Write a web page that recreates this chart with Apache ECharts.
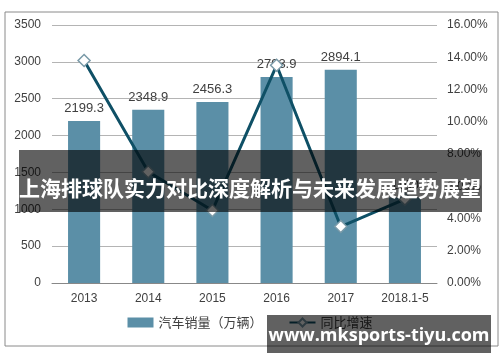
<!DOCTYPE html>
<html><head><meta charset="utf-8">
<script src="https://cdn.jsdelivr.net/npm/echarts@6/dist/echarts.min.js"></script>
<style>html,body{margin:0;padding:0;background:#fff}#c{width:500px;height:362px}</style>
</head><body><div id="c"></div>
<script>
const categories = ['2013','2014','2015','2016','2017','2018.1-5'];
const sales = [2199.3, 2348.9, 2456.3, 2793.9, 2894.1, 1160];
const growth = [13.8, 6.9, 4.5, 13.5, 3.5, 5.2];
const leftTicks = {min:0, max:3500, interval:500};
const rightTicks = {min:0, max:16, interval:2};
const titleText = '上海排球队实力对比深度解析与未来发展趋势展望';
const siteText = 'www.mksports-tiyu.com';

const chart = echarts.init(document.getElementById('c'));
const lab = {color:'#404040', fontSize:12, fontFamily:'Liberation Sans, Arial, sans-serif'};
chart.setOption({
  animation:false,
  grid:{left:52, right:63, top:25, bottom:79},
  legend:{
    bottom:28, left:'center', itemGap:26,
    textStyle:{color:'#404040', fontSize:13, fontFamily:'Noto Sans CJK SC'},
    data:[{name:'汽车销量（万辆）', icon:'rect', itemHeight:8},{name:'同比增速'}],
    itemWidth:26, itemHeight:10
  },
  xAxis:{type:'category', data:categories,
    axisLine:{lineStyle:{color:'#888', width:1}}, axisTick:{show:false},
    axisLabel:Object.assign({margin:10}, lab)},
  yAxis:[
    Object.assign({type:'value', position:'left', axisLine:{show:false}, axisTick:{show:false},
      splitLine:{lineStyle:{color:'#b4b4b4', width:1}}, axisLabel:Object.assign({margin:11, formatter:v=>String(v)}, lab)}, leftTicks),
    Object.assign({type:'value', position:'right', axisLine:{show:false}, axisTick:{show:false},
      splitLine:{show:false}, axisLabel:Object.assign({margin:10, formatter:v=>v.toFixed(2)+'%'}, lab)}, rightTicks)
  ],
  series:[
    {name:'汽车销量（万辆）', type:'bar', data:sales, barWidth:'50%', itemStyle:{color:'#5b8fa7'},
     label:{show:true, position:'top', color:'#404040', fontSize:13, fontFamily:'Liberation Sans, Arial, sans-serif', distance:6}},
    {name:'同比增速', type:'line', yAxisIndex:1, data:growth, symbol:'diamond', symbolSize:12,
     lineStyle:{color:'#0f5066', width:3}, itemStyle:{color:'#ffffff', borderColor:'#7a9aa8', borderWidth:1.5}, z:5}
  ],
  graphic:[
    {type:'rect', shape:{x:5, y:12, width:493, height:334}, style:{fill:'none', stroke:'#8a8a8a', lineWidth:1}, z:1, silent:true},
    {type:'rect', shape:{x:19, y:150, width:463, height:62}, style:{fill:'rgba(0,0,0,0.62)'}, z:100},
    {type:'text', x:250, y:188, style:{text:titleText, fill:'#ffffff', fontSize:21, fontWeight:'bold', fontFamily:'Noto Sans CJK SC', align:'center', verticalAlign:'middle'}, z:101},
    {type:'rect', shape:{x:267, y:315, width:224, height:38}, style:{fill:'rgba(0,0,0,0.62)'}, z:100},
    {type:'text', x:379, y:336, style:{text:siteText, fill:'#ffffff', fontSize:18, fontWeight:'bold', fontFamily:'Open Sans, sans-serif', align:'center', verticalAlign:'middle'}, z:101}
  ]
});
</script></body></html>
